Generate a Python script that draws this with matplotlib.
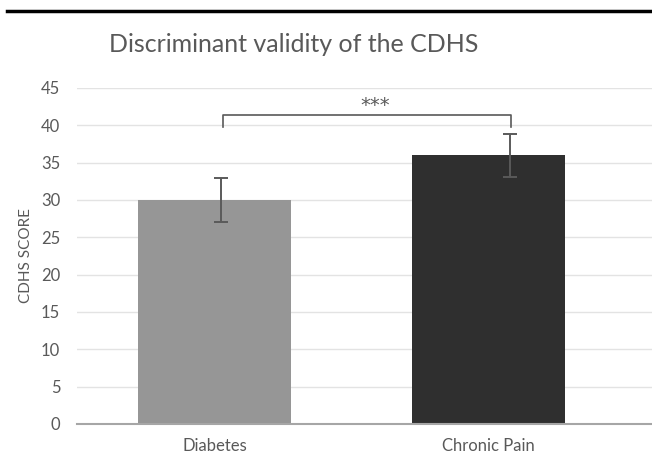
import matplotlib
matplotlib.use("Agg")
import matplotlib.pyplot as plt
from matplotlib.lines import Line2D

categories = ["Diabetes", "Chronic Pain"]
means = [30.0, 36.0]
errors = [3.0, 2.9]
bar_colors = ["#969696", "#2f2f2f"]
yticks = [0, 5, 10, 15, 20, 25, 30, 35, 40, 45]
sig_label = "***"
sig_height = 41.4
sig_drop = 1.6
err_offsets = [0.022, 0.079]

plt.rcParams['font.family'] = ['Lato', 'DejaVu Sans']

fig = plt.figure(figsize=(6.52, 4.57), dpi=100)
ax = fig.add_axes([77/652, 1-424/457, 1-77/652, (424-88)/457])

x = list(range(len(categories)))
ax.bar(x, means, width=0.56, color=bar_colors, zorder=2)
ex = [xi + o for xi, o in zip(x, err_offsets)]
ax.errorbar(ex, means, yerr=errors, fmt='none', ecolor='#5a5a5a',
            elinewidth=1.4, capsize=5, capthick=1.4, zorder=3)

# significance bracket
x0, x1 = ex[0] + 0.01, ex[1] + 0.003
ax.plot([x0, x0, x1, x1], [sig_height - sig_drop, sig_height, sig_height, sig_height - sig_drop],
        color='#595959', lw=1.2, zorder=3)
ax.text((x0 + x1) / 2 + 0.028, sig_height + 1.25, sig_label, ha='center', va='center',
        fontsize=14, color='#595959', family='DejaVu Sans')

ax.set_ylim(0, 45)
ax.set_xlim(-0.503, 1.598)
ax.set_yticks(yticks)
ax.set_xticks(x)
ax.set_xticklabels(categories)
ax.yaxis.grid(True, color='#e3e3e3', lw=1.0, zorder=0)
ax.set_axisbelow(True)
for s in ['top', 'right', 'left']:
    ax.spines[s].set_visible(False)
ax.spines['bottom'].set_color('#a6a6a6')
ax.spines['bottom'].set_linewidth(1.5)
ax.tick_params(axis='both', length=0, colors='#595959', labelsize=12)
ax.tick_params(axis='y', pad=12)
ax.tick_params(axis='x', pad=10)
ax.set_ylabel("CDHS SCORE", fontsize=11, color='#595959', labelpad=6)

fig.text(294/652, 1-44/457, "Discriminant validity of the CDHS", ha='center', va='center',
         fontsize=18, color='#595959', fontweight='normal')

fig.add_artist(Line2D([7/652, 1.0], [1-11/457, 1-11/457], color='black', lw=2.5,
                      transform=fig.transFigure))

fig.savefig("out.png", dpi=100)
